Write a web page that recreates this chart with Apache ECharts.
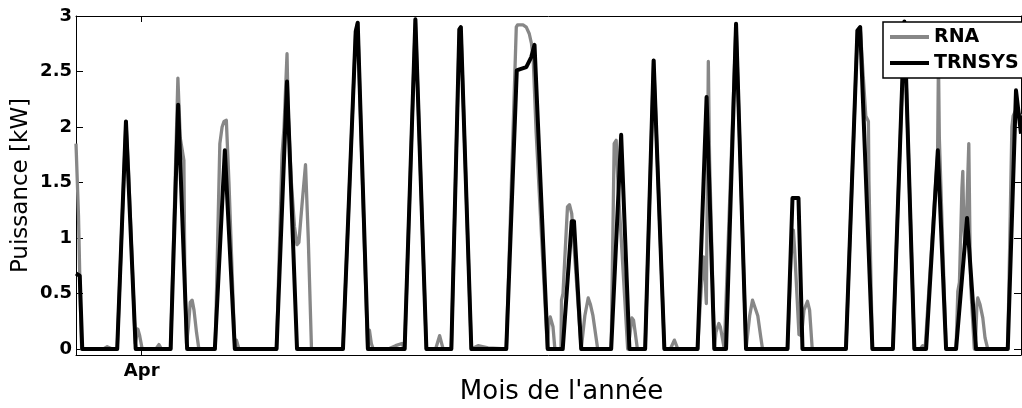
<!DOCTYPE html>
<html>
<head>
<meta charset="utf-8">
<script src="https://cdn.jsdelivr.net/npm/echarts@6/dist/echarts.min.js"></script>
<style>
html,body{margin:0;padding:0;background:#fff;}
#chart{width:1022px;height:408px;}
</style>
</head>
<body>
<div id="chart"></div>
<script>
// x values: hours since start of the plotted period; y values: power in kW
const xMin = 0;
const xMax = 756.8;
const monthTickHours = [52.6];
const monthTickLabels = ['Apr'];
const yTicks = [0, 0.5, 1, 1.5, 2, 2.5, 3];
const yMin = -0.054;
const yMax = 3;

const trnsysData = [
  [0,0.68],[3,0.66],[5,0],
  [33,0],[40,2.05],[41.6,2.06],[47.8,0],
  [75.8,0],[81.8,2.2],[89,0],
  [111.2,0],[119.2,1.79],[127.2,0],
  [160.6,0],[169,2.41],[177,0],
  [213.8,0],[224,2.86],[225.6,2.94],[233.8,0],
  [263.2,0],[271.8,2.97],[280.6,0],
  [300.6,0],[307,2.88],[308.2,2.9],[316.6,0],
  [344.6,0],[353,2.51],[355.2,2.52],[360.6,2.54],[364.6,2.63],[367.2,2.74],[377.8,0],
  [389.8,0],[397,1.15],[398.8,1.15],[404.6,0],
  [428.6,0],[436.6,1.93],[443.2,0],
  [455.8,0],[462.6,2.6],[471.2,0],
  [497.8,0],[505,2.27],[511.2,0],
  [520.6,0],[528.6,2.93],[536.6,0],
  [569.8,0],[573.8,1.36],[578.6,1.36],[581.8,0],
  [616.6,0],[625.8,2.87],[628,2.9],[637.8,0],
  [654.2,0],[663.4,2.95],[671.4,0],
  [680.8,0],[690.2,1.79],[696.8,0],
  [704.8,0],[713.6,1.18],[720.8,0],
  [746.2,0],[752.8,2.33],[756.8,1.94]
];

const rnaData = [
  [0,1.85],[2,1.2],[3.5,0.4],[4.5,0],
  [22,0],[25,0.02],[29,0],
  [33,0],[40,2.05],[41,2.06],[42,1.62],[47.5,0.05],[49.5,0.18],[51,0.12],[53,0],
  [64,0],[66.4,0.04],[68.5,0],
  [75.8,0],[81.6,2.44],[83.5,1.9],[86.4,1.7],[87.2,0.6],[88.5,0.05],[90,0.2],[91.5,0.42],[93,0.44],[94.5,0.35],[96.5,0.15],[98.4,0],
  [111.5,0],[113.5,1.0],[115.2,1.85],[117,2.0],[118.5,2.05],[120.4,2.06],[122.5,1.5],[127.2,0],[128.5,0.08],[130.5,0],
  [160.6,0],[165,1.75],[166.6,2.0],[169,2.66],[170,2.1],[172.5,1.5],[175,1.1],[177,0.94],[178.5,0.96],[181,1.3],[183.8,1.66],[186,1.0],[188.6,0],
  [213.8,0],[224,2.86],[225.6,2.94],[233.5,0],[235,0.17],[236.5,0.05],[238,0],
  [250,0],[256,0.03],[261,0.05],[263.2,0],[271.8,2.97],[280.6,0],
  [288,0],[291.2,0.12],[294,0],
  [300.6,0],[307,2.88],[308.2,2.9],[316.6,0],
  [318,0],[322,0.03],[330,0.01],[344.6,0],
  [352.6,2.9],[353.6,2.92],[355.2,2.93],[358,2.92],[360.6,2.9],[363,2.84],[364.8,2.75],[366.2,2.6],[368.5,1.95],[377.5,0],[378.8,0.25],[379.8,0.29],[381,0.28],[382,0.2],[383.5,0],
  [388.4,0],[388.8,0.44],[390,0.5],[393.6,1.28],[395.2,1.3],[397,1.22],[404.6,0],
  [405.6,0],[407.5,0.3],[410.2,0.46],[412,0.4],[414,0.3],[417.8,0],
  [428.6,0],[431,1.85],[432.6,1.88],[434,1.5],[441.8,0],[443.5,0.12],[445.2,0.28],[446.5,0.26],[449.6,0],
  [455.8,0],[462.6,2.6],[471.2,0],
  [476,0],[479.2,0.08],[482,0],
  [497.8,0],[501,0.6],[502.6,0.83],[504,0.6],[504.8,0.41],[506.4,2.59],[507.4,1.7],[509,1.0],[511.2,0],[512.5,0.15],[514.8,0.23],[516,0.2],[519.2,0],
  [520.6,0],[528.6,2.93],[536.6,0],[537.8,0],[539.5,0.3],[541.8,0.44],[543.2,0.44],[546,0.3],[548.5,0.1],[549.8,0],
  [569.8,0],[572.5,0.8],[574.5,1.07],[575.5,0.9],[579,0.13],[581,0.12],[583,0.35],[585.8,0.43],[587.5,0.35],[589.6,0],
  [616.6,0],[625.8,2.87],[628,2.9],[630.5,2.45],[632.5,2.1],[634.6,2.05],[635,1.52],[637.8,0],
  [654.2,0],[663.4,2.95],[671.4,0],
  [676,0],[678,0.03],[680,0],
  [680.8,0],[688.5,1.5],[690,1.75],[690.7,2.6],[691.4,1.9],[696.8,0],
  [704.8,0],[706.2,0.52],[707.5,0.6],[709.5,1.45],[710.2,1.6],[711,1.1],[712,0.95],[713.5,1.3],[715,1.85],[716,0.9],[716.5,0.58],[719.4,0],[720.5,0.1],[721.5,0.4],[722.2,0.46],[724,0.4],[726.2,0.28],[728,0.1],[730.2,0],
  [746.2,0],[749.5,2.0],[750.5,2.1],[752.5,2.15],[756.8,2.1]
];

const seriesNames = ['RNA', 'TRNSYS'];
const seriesColors = ['#878787', '#000000'];
const yTitle = 'Puissance [kW]';
const xTitle = "Mois de l'année";

const chart = echarts.init(document.getElementById('chart'), null, {renderer: 'canvas'});
const tickFont = {fontFamily: 'DejaVu Sans', fontWeight: 'bold', fontSize: 18, color: '#000'};
const axisLineStyle = {color: '#000', width: 1};

chart.setOption({
  animation: false,
  backgroundColor: '#fff',
  grid: {left: 76, top: 16, right: 1, bottom: 53, containLabel: false},
  xAxis: [{
    type: 'value', min: xMin, max: xMax, position: 'bottom',
    axisLine: {show: true, onZero: false, lineStyle: axisLineStyle},
    axisTick: {show: true, inside: true, length: 6, customValues: monthTickHours, lineStyle: axisLineStyle},
    axisLabel: {show: true, customValues: monthTickHours, margin: 7,
      formatter: function (v) { const i = monthTickHours.indexOf(v); return i >= 0 ? monthTickLabels[i] : ''; },
      ...tickFont},
    splitLine: {show: false}
  }, {
    type: 'value', min: xMin, max: xMax, position: 'top',
    axisLine: {show: true, onZero: false, lineStyle: axisLineStyle},
    axisTick: {show: true, inside: true, length: 6, customValues: monthTickHours, lineStyle: axisLineStyle},
    axisLabel: {show: false},
    splitLine: {show: false}
  }],
  yAxis: [{
    type: 'value', min: yMin, max: yMax, position: 'left',
    axisLine: {show: true, onZero: false, lineStyle: axisLineStyle},
    axisTick: {show: true, inside: true, length: 7, customValues: yTicks, lineStyle: axisLineStyle},
    axisLabel: {show: true, customValues: yTicks, margin: 4, formatter: v => String(v), ...tickFont},
    splitLine: {show: false}
  }, {
    type: 'value', min: yMin, max: yMax, position: 'right',
    axisLine: {show: true, onZero: false, lineStyle: axisLineStyle},
    axisTick: {show: true, inside: true, length: 7, customValues: yTicks, lineStyle: axisLineStyle},
    axisLabel: {show: false},
    splitLine: {show: false}
  }],
  legend: {
    show: true, orient: 'vertical', left: 883, top: 22, z: 20,
    padding: [4, 6, 4, 7], itemGap: 4, itemWidth: 39, itemHeight: 4,
    icon: 'rect',
    backgroundColor: '#fff', borderColor: '#000', borderWidth: 1.5, borderRadius: 0,
    textStyle: {fontFamily: 'DejaVu Sans', fontWeight: 'bold', fontSize: 19, color: '#000', lineHeight: 22},
    data: seriesNames
  },
  graphic: [
    {type: 'text', x: 561.5, y: 392, z: 10, style: {text: xTitle, font: '26px "DejaVu Sans"', fill: '#000', align: 'center', verticalAlign: 'middle'}},
    {type: 'text', x: 21.5, y: 185.5, z: 10, rotation: Math.PI / 2, style: {text: yTitle, font: '23px "DejaVu Sans"', fill: '#000', align: 'center', verticalAlign: 'middle'}}
  ],
  series: [{
    name: seriesNames[0], type: 'line', data: rnaData, xAxisIndex: 0, yAxisIndex: 0,
    symbol: 'none', smooth: false, clip: true,
    lineStyle: {color: seriesColors[0], width: 3.3, join: 'round'},
    itemStyle: {color: seriesColors[0]}, z: 2
  }, {
    name: seriesNames[1], type: 'line', data: trnsysData, xAxisIndex: 0, yAxisIndex: 0,
    symbol: 'none', smooth: false, clip: true,
    lineStyle: {color: seriesColors[1], width: 4, join: 'round'},
    itemStyle: {color: seriesColors[1]}, z: 3
  }]
});
</script>
</body>
</html>
